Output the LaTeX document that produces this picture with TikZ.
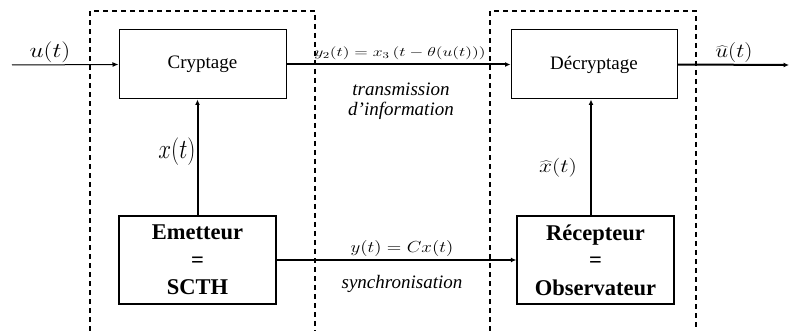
\RequirePackage{fix-cm}
\documentclass[tikz,border=0pt]{standalone}
\usepackage{fontspec}
\setmainfont{Liberation Serif}
\usetikzlibrary{arrows.meta,calc}

\tikzset{
  blockbox/.style={draw, line width=1pt, rectangle, inner sep=0pt,
    font=\fontsize{19}{22}\selectfont},
  actorbox/.style={draw, line width=1.3pt, rectangle, inner sep=0pt, align=center,
    font=\fontsize{22.5}{27.5}\selectfont\bfseries},
  zone/.style={line width=1.8pt, dash pattern=on 5pt off 4pt},
  sigarrow/.style={line width=2pt, -{Latex[length=5.5pt,width=5pt]}},
  thinarrow/.style={line width=1pt, -{Latex[length=6pt,width=5pt]}},
  lbl/.style={inner sep=0pt, anchor=base},
  channel/.style={inner sep=0pt, anchor=base, font=\fontsize{19}{20}\selectfont\itshape}
}

\begin{document}
\begin{tikzpicture}[x=1pt, y=-1pt]
  \useasboundingbox (0,0) rectangle (789,331);

  % dashed zones: emitter side and receiver side
  \draw[zone] (90,331) -- (90,11) -- (315,11) -- (315,331);
  \draw[zone] (490,331) -- (490,11) -- (696,11) -- (696,331);

  % blocks
  \node[blockbox, minimum width=167pt, minimum height=69pt] (crypt) at (202.5,64.5) {Cryptage};
  \node[blockbox, minimum width=166pt, minimum height=69pt] (decrypt) at (594,64.5) {Décryptage};
  \node[actorbox, minimum width=157pt, minimum height=88pt] (emet) at (197.5,260) {Emetteur\\=\\SCTH};
  \node[actorbox, minimum width=157pt, minimum height=88pt] (recep) at (595.5,260) {Récepteur\\=\\Observateur};

  % free ends
  \coordinate (uin) at (12,65);
  \coordinate (uout) at (789,65);

  % connectors
  \draw[thinarrow] (uin) -- (crypt.west);
  \draw[sigarrow] (crypt.east) -- (decrypt.west);
  \draw[sigarrow] (decrypt.east) -- (uout);
  \draw[sigarrow] (emet.north) -- (emet.north |- crypt.south);
  \draw[sigarrow] ([xshift=-4.5pt]recep.north) -- ([xshift=-4.5pt]recep.north |- decrypt.south);
  \draw[sigarrow] (emet.east) -- (recep.west);

  % signal labels
  \node[lbl, font=\fontsize{21}{24}\selectfont, xscale=1.2] (lu) at (50,58) {$u(t)$};
  \node[lbl, font=\fontsize{20}{24}\selectfont, xscale=1.15] (luh) at (734,58) {$\widehat{u}(t)$};
  \node[lbl, font=\fontsize{23}{26}\selectfont, yscale=1.2] (lx) at (177,159) {$x(t)$};
  \node[lbl, font=\fontsize{19}{22}\selectfont, xscale=1.23] (lxh) at (558,172) {$\widehat{x}(t)$};
  \node[lbl, font=\fontsize{13}{15}\selectfont, xscale=1.36] (ly2) at (400,57) {$y_2(t) = x_3\,(t-\theta(u(t)))$};
  \node[lbl, font=\fontsize{16}{18}\selectfont, xscale=1.19] (ly) at (402,252) {$y(t) = Cx(t)$};

  % channel names
  \node[channel] (trans) at (401,95.5) {transmission};
  \node[channel] (info) at (401,116) {d'information};
  \node[channel] (sync) at (402,288) {synchronisation};
\end{tikzpicture}
\end{document}
